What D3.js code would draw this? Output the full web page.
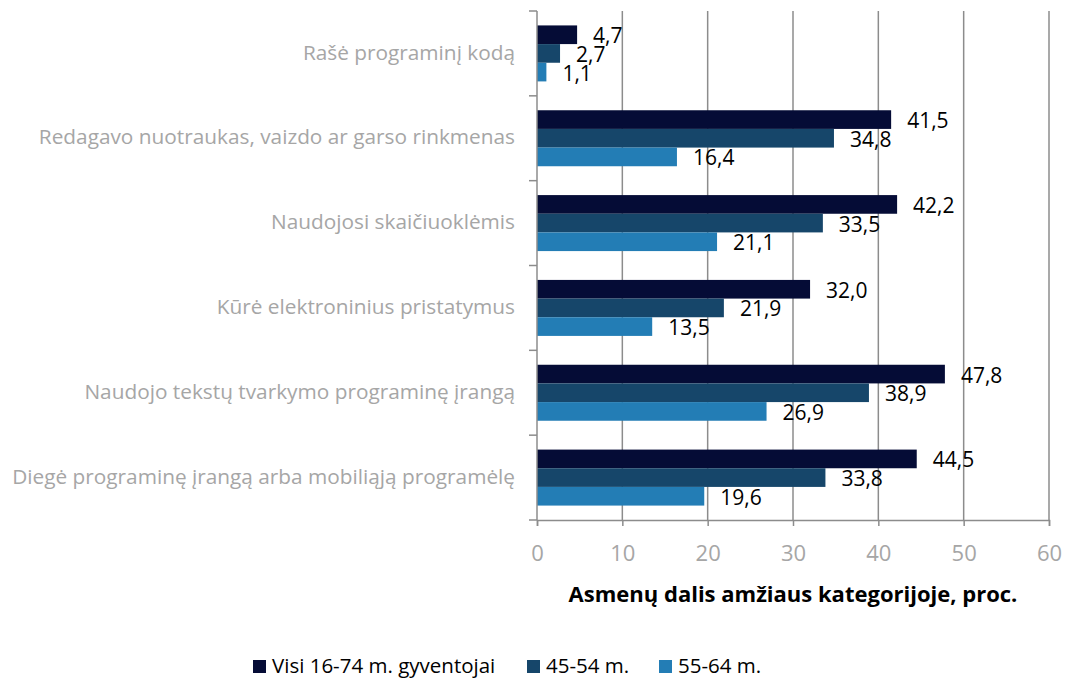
<!DOCTYPE html>
<html>
<head>
<meta charset="utf-8">
<script src="https://cdn.jsdelivr.net/npm/d3@7"></script>
<style>
body { margin: 0; background: #fff; }
svg text { font-family: "Open Sans", sans-serif; }
</style>
</head>
<body>
<svg width="1069" height="679"></svg>
<script>
var categories = [
    "Rašė programinį kodą",
    "Redagavo nuotraukas, vaizdo ar garso rinkmenas",
    "Naudojosi skaičiuoklėmis",
    "Kūrė elektroninius pristatymus",
    "Naudojo tekstų tvarkymo programinę įrangą",
    "Diegė programinę įrangą arba mobiliąją programėlę"
];
var seriesNames = ["Visi 16-74 m. gyventojai", "45-54 m.", "55-64 m."];
var visi = [4.7, 41.5, 42.2, 32.0, 47.8, 44.5];
var m4554 = [2.7, 34.8, 33.5, 21.9, 38.9, 33.8];
var m5564 = [1.1, 16.4, 21.1, 13.5, 26.9, 19.6];
var xTicks = [0, 10, 20, 30, 40, 50, 60];

var colors = ["#050c36", "#16466a", "#237db5"];
var series = [visi, m4554, m5564];

var svg = d3.select("svg"),
    plotLeft = 537, plotRight = 1049, plotTop = 11, plotBottom = 520;

var x = d3.scaleLinear().domain([0, 60]).range([plotLeft, plotRight]);
var y = d3.scaleBand().domain(categories).range([plotTop, plotBottom]).paddingInner(0.34).paddingOuter(0.17);
var ySub = d3.scaleBand().domain([0, 1, 2]).range([0, y.bandwidth()]);

// gridlines
svg.append("g")
    .selectAll("line")
    .data(xTicks.slice(1))
    .enter().append("line")
    .attr("x1", function(d) { return x(d); })
    .attr("x2", function(d) { return x(d); })
    .attr("y1", plotTop)
    .attr("y2", plotBottom)
    .attr("stroke", "#8c8c8c")
    .attr("stroke-width", 1.5);

// bars
var rows = [];
categories.forEach(function(c, i) {
    series.forEach(function(s, j) {
        rows.push({cat: c, s: j, v: s[i]});
    });
});

svg.append("g")
    .selectAll("rect")
    .data(rows)
    .enter().append("rect")
    .attr("x", x(0))
    .attr("y", function(d) { return y(d.cat) + ySub(d.s); })
    .attr("width", function(d) { return x(d.v) - x(0); })
    .attr("height", ySub.bandwidth())
    .attr("fill", function(d) { return colors[d.s]; });

svg.append("g")
    .selectAll("text")
    .data(rows)
    .enter().append("text")
    .attr("x", function(d) { return x(d.v) + 16; })
    .attr("y", function(d) { return y(d.cat) + ySub(d.s) + ySub.bandwidth() / 2 + 1; })
    .attr("dy", "0.36em")
    .attr("font-size", 21)
    .attr("fill", "#000")
    .text(function(d) { return d.v.toFixed(1).replace(".", ","); });

// x axis
var xAxis = svg.append("g")
    .attr("transform", "translate(0," + plotBottom + ")")
    .call(d3.axisBottom(x).tickValues(xTicks).tickSize(6).tickPadding(19).tickFormat(d3.format("d")));
xAxis.select(".domain").attr("stroke", "#8c8c8c").attr("stroke-width", 1.5);
xAxis.selectAll(".tick line").attr("stroke", "#8c8c8c").attr("stroke-width", 1.5);
xAxis.selectAll(".tick text")
    .attr("fill", "#a6a6a6")
    .attr("font-size", 22)
    .attr("font-family", "'Open Sans', sans-serif");

// y axis
var yEdges = d3.range(categories.length + 1).map(function(i) { return plotTop + i * (plotBottom - plotTop) / categories.length; });
svg.append("line")
    .attr("x1", plotLeft).attr("x2", plotLeft)
    .attr("y1", plotTop).attr("y2", plotBottom)
    .attr("stroke", "#8c8c8c").attr("stroke-width", 1.5);
svg.append("g")
    .selectAll("line")
    .data(yEdges)
    .enter().append("line")
    .attr("x1", plotLeft - 8).attr("x2", plotLeft)
    .attr("y1", function(d) { return d; })
    .attr("y2", function(d) { return d; })
    .attr("stroke", "#8c8c8c").attr("stroke-width", 1.5);

svg.append("g")
    .selectAll("text")
    .data(categories)
    .enter().append("text")
    .attr("x", 515)
    .attr("y", function(d) { return y(d) + y.bandwidth() / 2; })
    .attr("dy", "0.3em")
    .attr("text-anchor", "end")
    .attr("font-size", 20.8)
    .attr("fill", "#a6a6a6")
    .text(function(d) { return d; });

// axis title
svg.append("text")
    .attr("x", 793)
    .attr("y", 602)
    .attr("text-anchor", "middle")
    .attr("font-size", 22)
    .attr("font-weight", "bold")
    .attr("fill", "#000")
    .text("Asmenų dalis amžiaus kategorijoje, proc.");

// legend
var legendX = [253, 527, 659];
var legend = svg.append("g")
    .selectAll("g")
    .data(seriesNames)
    .enter().append("g")
    .attr("transform", function(d, i) { return "translate(" + legendX[i] + ",660)"; });
legend.append("rect")
    .attr("width", 13).attr("height", 13)
    .attr("fill", function(d, i) { return colors[i]; });
legend.append("text")
    .attr("x", 19)
    .attr("y", 13)
    .attr("font-size", 20.5)
    .attr("fill", "#000")
    .text(function(d) { return d; });
</script>
</body>
</html>
